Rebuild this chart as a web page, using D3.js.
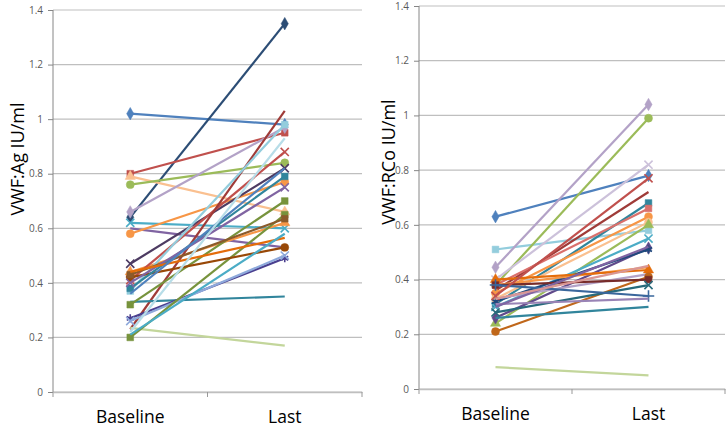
<!DOCTYPE html>
<html><head><meta charset="utf-8">
<script src="https://cdn.jsdelivr.net/npm/d3@7"></script>
<style>body{margin:0;background:#fff}svg{display:block}</style>
</head><body><svg id="c" width="728" height="428"></svg>
<script>
const categories = ["Baseline", "Last"];
const yTicks = [0, 0.2, 0.4, 0.6, 0.8, 1, 1.2, 1.4];

// VWF:Ag panel
const agBaseline = [1.02,0.64,0.80,0.79,0.76,0.66,0.62,0.60,0.58,0.47,0.44,0.41,0.23,0.37,0.33,0.32,0.27,0.26,0.235,0.20,0.42,0.43,0.38,0.40,0.44,0.36,0.21,0.22];
const agLast     = [0.98,1.35,0.95,0.66,0.84,0.97,0.60,0.53,0.77,0.82,0.62,0.88,1.03,0.98,0.35,0.70,0.49,0.50,0.17,0.65,0.53,0.635,0.79,0.75,0.565,0.82,0.58,0.93];
const agColors  = ["#4F81BD","#2C4D75","#C0504D","#FAC090","#9BBB59","#B3A2C7","#4BACC6","#8064A2","#F79646","#4D3B62","#F79646","#C0504D","#9F3B38","#93CDDD","#31859C","#77933C","#4A3F8F","#8EA9DB","#C3D69B","#77933C","#984807","#8B5A2B","#31859C","#8064A2","#E46C0A","#4F81BD","#4BACC6","#B7DDE8"];
const agMarkers = ["diamond","diamond","square","triangle","circle","diamond","times","none","circle","times","triangle","times","none","square","none","square","asterisk","times","none","square","circle","square","square","times","none","none","none","none"];

// VWF:RCo panel
const rcoBaseline = [0.63,0.51,0.445,0.38,0.40,0.36,0.31,0.38,0.35,0.33,0.24,0.30,0.26,0.32,0.38,0.40,0.33,0.21,0.38,0.28,0.38,0.31,0.26,0.08,0.34,0.30,0.33];
const rcoLast     = [0.78,0.58,1.04,0.99,0.82,0.72,0.68,0.66,0.63,0.61,0.60,0.55,0.515,0.51,0.445,0.435,0.42,0.41,0.40,0.38,0.34,0.33,0.30,0.05,0.77,0.52,0.45];
const rcoColors  = ["#4F81BD","#93CDDD","#B3A2C7","#9BBB59","#CCC1DA","#9F3B38","#31859C","#D9706C","#F79646","#FAC090","#9BBB59","#4BACC6","#604A8A","#1F497D","#F79646","#E46C0A","#B3A2C7","#C0671A","#772C2A","#276A7C","#3A679C","#9983B5","#31859C","#C3D69B","#C0504D","#8064A2","#D99694"];
const rcoMarkers = ["diamond","square","diamond","circle","times","none","square","square","circle","circle","triangle","times","diamond","asterisk","none","triangle","none","circle","square","times","plus","none","none","none","times","none","none"];

const svg = d3.select("#c");
const symMap = {diamond:d3.symbolDiamond, square:d3.symbolSquare, triangle:d3.symbolTriangle, circle:d3.symbolCircle, times:d3.symbolTimes, asterisk:d3.symbolAsterisk, plus:d3.symbolPlus};
const strokeOnly = {times:true, asterisk:true, plus:true};

function panel(opt) {
  const x = d3.scaleBand().domain(categories).range([opt.x0, opt.x1]).padding(0);
  const y = d3.scaleLinear().domain([0, 1.4]).range([opt.yb, opt.yt]);
  const g = svg.append("g");
  g.selectAll("line.grid").data(yTicks).join("line")
    .attr("x1", opt.x0).attr("x2", opt.x1)
    .attr("y1", d => y(d)).attr("y2", d => y(d))
    .attr("stroke", "#BFBFBF").attr("stroke-width", 1.2);
  const ya = g.append("g").attr("transform", `translate(${opt.x0},0)`)
    .call(d3.axisLeft(y).tickValues(yTicks).tickSize(5).tickPadding(5).tickFormat(d => d3.format("")(d)));
  ya.select(".domain").attr("stroke", "#868686").attr("d", `M0,${opt.yt}V${opt.yb}`);
  ya.selectAll(".tick line").attr("stroke", "#868686");
  ya.selectAll("text").attr("fill", "#595959").style("font-family", "'Open Sans', 'DejaVu Sans', sans-serif").style("font-size", "10px");
  const xa = g.append("g").attr("transform", `translate(0,${opt.yb})`)
    .call(d3.axisBottom(x).tickSize(0).tickPadding(19));
  xa.select(".domain").attr("stroke", "#BFBFBF").attr("stroke-width", 1.5);
  xa.selectAll("text").attr("fill", "#000").style("font-family", "'Open Sans', 'Liberation Sans', sans-serif").style("font-size", "17.5px");
  const edges = [opt.x0, opt.x0 + x.bandwidth(), opt.x1];
  g.selectAll("line.xt").data(edges).join("line")
    .attr("x1", d => d).attr("x2", d => d).attr("y1", opt.yb).attr("y2", opt.yb + 5)
    .attr("stroke", "#999");
  g.append("text").attr("transform", `translate(${opt.tx},${opt.ty}) rotate(-90)`)
    .attr("text-anchor", "middle").attr("dominant-baseline", "central")
    .style("font-family", "'Open Sans', 'Liberation Sans', sans-serif").style("font-size", "18px")
    .text(opt.title);
  const cx = c => x(c) + x.bandwidth() / 2;
  const line = d3.line().x(d => cx(d[0])).y(d => y(d[1]));
  opt.base.forEach((b, i) => {
    const pts = [[categories[0], b], [categories[1], opt.last[i]]];
    const sg = g.append("g");
    sg.append("path").attr("d", line(pts)).attr("fill", "none")
      .attr("stroke", opt.colors[i]).attr("stroke-width", 2.2);
    const m = opt.markers[i];
    if (m !== "none") {
      const sym = d3.symbol().type(symMap[m]).size(m === "circle" ? 50 : 45);
      sg.selectAll("path.m").data(pts).join("path")
        .attr("transform", d => `translate(${cx(d[0])},${y(d[1])})`)
        .attr("d", sym())
        .attr("fill", strokeOnly[m] ? "none" : opt.colors[i])
        .attr("stroke", opt.colors[i]).attr("stroke-width", strokeOnly[m] ? 1.6 : 0.5);
    }
  });
}

panel({x0: 53, x1: 362, yb: 392, yt: 10, base: agBaseline, last: agLast, colors: agColors, markers: agMarkers, title: "VWF:Ag IU/ml", tx: 17, ty: 159});
panel({x0: 419, x1: 725, yb: 389, yt: 6, base: rcoBaseline, last: rcoLast, colors: rcoColors, markers: rcoMarkers, title: "VWF:RCo IU/ml", tx: 388, ty: 162});
</script></body></html>
